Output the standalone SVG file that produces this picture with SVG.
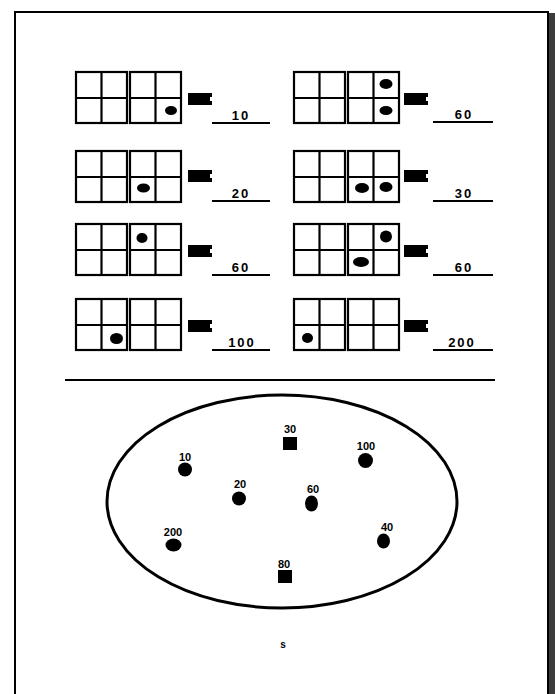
<svg xmlns="http://www.w3.org/2000/svg" width="555" height="694" viewBox="0 0 555 694">
<style>
.box{fill:none;stroke:#000;stroke-width:2.2}
.bar{fill:#000}
.ul{stroke:#000;stroke-width:2}
.dot{fill:#000}
.lbl{font-family:"Liberation Sans",Arial,sans-serif;font-weight:bold;font-size:13px;letter-spacing:2px;fill:#000;text-anchor:middle}
.pl{font-family:"Liberation Sans",Arial,sans-serif;font-weight:bold;font-size:11px;fill:#000;text-anchor:middle}
</style>
<defs>
<g id="grid">
<rect class="box" x="0" y="0" width="51" height="51"/>
<line class="box" x1="25.5" y1="0" x2="25.5" y2="51"/>
<line class="box" x1="0" y1="26" x2="51" y2="26"/>
</g>
<path id="barshape" d="M0,0 H24 V4 H22 V8 H24 V12 H0 Z"/>
</defs>
<rect x="0" y="0" width="555" height="694" fill="#fff"/>
<rect x="547" y="13" width="8" height="681" fill="#3c3c3c"/>
<rect x="15" y="12" width="533" height="700" fill="none" stroke="#000" stroke-width="2"/>

<g id="row-l1">
<use href="#grid" x="76" y="72"/><use href="#grid" x="130" y="72"/>
<ellipse class="dot" cx="171" cy="110.5" rx="6" ry="4.5"/>
<use href="#barshape" class="bar" x="188" y="93"/>
<line class="ul" x1="212" y1="123" x2="270" y2="123"/>
<text class="lbl" x="241" y="120">10</text>
</g>
<g id="row-l2">
<use href="#grid" x="76" y="151"/><use href="#grid" x="130" y="151"/>
<ellipse class="dot" cx="143.5" cy="188" rx="6.5" ry="4.5"/>
<use href="#barshape" class="bar" x="188" y="170"/>
<line class="ul" x1="212" y1="201" x2="270" y2="201"/>
<text class="lbl" x="241" y="198">20</text>
</g>
<g id="row-l3">
<use href="#grid" x="76" y="224"/><use href="#grid" x="130" y="224"/>
<ellipse class="dot" cx="142" cy="238" rx="5.5" ry="5"/>
<use href="#barshape" class="bar" x="188" y="245"/>
<line class="ul" x1="212" y1="275" x2="270" y2="275"/>
<text class="lbl" x="241" y="272">60</text>
</g>
<g id="row-l4">
<use href="#grid" x="76" y="299"/><use href="#grid" x="130" y="299"/>
<ellipse class="dot" cx="116.5" cy="338.5" rx="6.5" ry="5.5"/>
<use href="#barshape" class="bar" x="188" y="320"/>
<line class="ul" x1="212" y1="350" x2="270" y2="350"/>
<text class="lbl" x="242" y="347">100</text>
</g>

<g id="row-r1">
<use href="#grid" x="294" y="72"/><use href="#grid" x="348" y="72"/>
<ellipse class="dot" cx="386" cy="84" rx="6.5" ry="5"/>
<ellipse class="dot" cx="386" cy="110.5" rx="6.5" ry="4.5"/>
<use href="#barshape" class="bar" x="404" y="93"/>
<line class="ul" x1="433" y1="122" x2="493" y2="122"/>
<text class="lbl" x="464" y="119">60</text>
</g>
<g id="row-r2">
<use href="#grid" x="294" y="151"/><use href="#grid" x="348" y="151"/>
<ellipse class="dot" cx="362" cy="188" rx="7" ry="5"/>
<ellipse class="dot" cx="386" cy="187" rx="6.5" ry="5"/>
<use href="#barshape" class="bar" x="404" y="170"/>
<line class="ul" x1="433" y1="201" x2="493" y2="201"/>
<text class="lbl" x="464" y="198">30</text>
</g>
<g id="row-r3">
<use href="#grid" x="294" y="224"/><use href="#grid" x="348" y="224"/>
<ellipse class="dot" cx="386" cy="236.5" rx="6" ry="6"/>
<ellipse class="dot" cx="361" cy="262" rx="8" ry="5"/>
<use href="#barshape" class="bar" x="404" y="245"/>
<line class="ul" x1="433" y1="275" x2="493" y2="275"/>
<text class="lbl" x="464" y="272">60</text>
</g>
<g id="row-r4">
<use href="#grid" x="294" y="299"/><use href="#grid" x="348" y="299"/>
<ellipse class="dot" cx="307.5" cy="338" rx="5.5" ry="5"/>
<use href="#barshape" class="bar" x="404" y="320"/>
<line class="ul" x1="433" y1="350" x2="493" y2="350"/>
<text class="lbl" x="462" y="347">200</text>
</g>

<line x1="65" y1="380" x2="495" y2="380" stroke="#000" stroke-width="2"/>

<ellipse id="set" cx="282" cy="501.5" rx="175" ry="106.5" fill="none" stroke="#000" stroke-width="3"/>

<g id="p10"><text class="pl" x="185" y="461">10</text><circle class="dot" cx="185" cy="469.5" r="7"/></g>
<g id="p20"><text class="pl" x="240" y="488">20</text><circle class="dot" cx="239" cy="498.5" r="7"/></g>
<g id="p200"><text class="pl" x="173" y="536">200</text><ellipse class="dot" cx="173.5" cy="545" rx="8" ry="6.5"/></g>
<g id="p30"><text class="pl" x="290" y="433">30</text><rect class="dot" x="283" y="437" width="14" height="13"/></g>
<g id="p80"><text class="pl" x="284" y="568">80</text><rect class="dot" x="278" y="570" width="14" height="13"/></g>
<g id="p100"><text class="pl" x="366" y="450">100</text><circle class="dot" cx="365.5" cy="460.5" r="7.5"/></g>
<g id="p60"><text class="pl" x="313" y="493">60</text><ellipse class="dot" cx="311.5" cy="503.5" rx="6.5" ry="8"/></g>
<g id="p40"><text class="pl" x="387" y="531">40</text><ellipse class="dot" cx="383.5" cy="541" rx="6.5" ry="7.5"/></g>

<text x="283" y="648" font-family="Liberation Sans, Arial, sans-serif" font-weight="bold" font-size="10" text-anchor="middle">s</text>
</svg>
